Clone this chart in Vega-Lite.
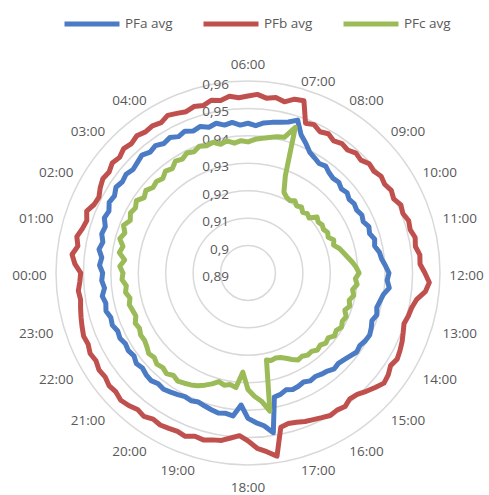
{
  "$schema": "https://vega.github.io/schema/vega-lite/v6.json",
  "width": 460,
  "height": 452,
  "autosize": "none",
  "padding": {"left": 18, "top": 43, "right": 11, "bottom": 0},
  "background": "white",
  "config": {"view": {"stroke": null}},
  "datasets": {
    "series": [
      {"t":0.0,"PFa avg":0.9430,"PFb avg":0.9510,"PFc avg":0.9356},
      {"t":0.2,"PFa avg":0.9442,"PFb avg":0.9532,"PFc avg":0.9368},
      {"t":0.4,"PFa avg":0.9436,"PFb avg":0.9545,"PFc avg":0.9352},
      {"t":0.6,"PFa avg":0.9450,"PFb avg":0.9528,"PFc avg":0.9375},
      {"t":0.8,"PFa avg":0.9441,"PFb avg":0.9538,"PFc avg":0.9366},
      {"t":1.0,"PFa avg":0.9452,"PFb avg":0.9525,"PFc avg":0.9384},
      {"t":1.2,"PFa avg":0.9447,"PFb avg":0.9518,"PFc avg":0.9372},
      {"t":1.4,"PFa avg":0.9461,"PFb avg":0.9530,"PFc avg":0.9386},
      {"t":1.6,"PFa avg":0.9455,"PFb avg":0.9514,"PFc avg":0.9370},
      {"t":1.8,"PFa avg":0.9468,"PFb avg":0.9510,"PFc avg":0.9381},
      {"t":2.0,"PFa avg":0.9462,"PFb avg":0.9522,"PFc avg":0.9374},
      {"t":2.2,"PFa avg":0.9474,"PFb avg":0.9531,"PFc avg":0.9385},
      {"t":2.4,"PFa avg":0.9466,"PFb avg":0.9526,"PFc avg":0.9368},
      {"t":2.6,"PFa avg":0.9472,"PFb avg":0.9537,"PFc avg":0.9379},
      {"t":2.8,"PFa avg":0.9464,"PFb avg":0.9530,"PFc avg":0.9366},
      {"t":3.0,"PFa avg":0.9470,"PFb avg":0.9541,"PFc avg":0.9372},
      {"t":3.2,"PFa avg":0.9478,"PFb avg":0.9535,"PFc avg":0.9364},
      {"t":3.4,"PFa avg":0.9467,"PFb avg":0.9544,"PFc avg":0.9378},
      {"t":3.6,"PFa avg":0.9474,"PFb avg":0.9536,"PFc avg":0.9370},
      {"t":3.8,"PFa avg":0.9463,"PFb avg":0.9540,"PFc avg":0.9386},
      {"t":4.0,"PFa avg":0.9470,"PFb avg":0.9533,"PFc avg":0.9379},
      {"t":4.2,"PFa avg":0.9458,"PFb avg":0.9545,"PFc avg":0.9391},
      {"t":4.4,"PFa avg":0.9466,"PFb avg":0.9537,"PFc avg":0.9384},
      {"t":4.6,"PFa avg":0.9455,"PFb avg":0.9530,"PFc avg":0.9395},
      {"t":4.8,"PFa avg":0.9462,"PFb avg":0.9538,"PFc avg":0.9388},
      {"t":5.0,"PFa avg":0.9450,"PFb avg":0.9532,"PFc avg":0.9393},
      {"t":5.2,"PFa avg":0.9458,"PFb avg":0.9544,"PFc avg":0.9380},
      {"t":5.4,"PFa avg":0.9446,"PFb avg":0.9537,"PFc avg":0.9388},
      {"t":5.6,"PFa avg":0.9452,"PFb avg":0.9548,"PFc avg":0.9376},
      {"t":5.8,"PFa avg":0.9440,"PFb avg":0.9540,"PFc avg":0.9383},
      {"t":6.0,"PFa avg":0.9446,"PFb avg":0.9545,"PFc avg":0.9378},
      {"t":6.2,"PFa avg":0.9438,"PFb avg":0.9552,"PFc avg":0.9388},
      {"t":6.4,"PFa avg":0.9450,"PFb avg":0.9541,"PFc avg":0.9394},
      {"t":6.6,"PFa avg":0.9456,"PFb avg":0.9548,"PFc avg":0.9400},
      {"t":6.8,"PFa avg":0.9462,"PFb avg":0.9538,"PFc avg":0.9408},
      {"t":7.0,"PFa avg":0.9470,"PFb avg":0.9556,"PFc avg":0.9412},
      {"t":7.2,"PFa avg":0.9486,"PFb avg":0.9560,"PFc avg":0.9458},
      {"t":7.4,"PFa avg":0.9440,"PFb avg":0.9485,"PFc avg":0.9280},
      {"t":7.6,"PFa avg":0.9418,"PFb avg":0.9492,"PFc avg":0.9222},
      {"t":7.8,"PFa avg":0.9395,"PFb avg":0.9478,"PFc avg":0.9210},
      {"t":8.0,"PFa avg":0.9385,"PFb avg":0.9486,"PFc avg":0.9205},
      {"t":8.2,"PFa avg":0.9376,"PFb avg":0.9474,"PFc avg":0.9214},
      {"t":8.4,"PFa avg":0.9382,"PFb avg":0.9483,"PFc avg":0.9202},
      {"t":8.6,"PFa avg":0.9370,"PFb avg":0.9477,"PFc avg":0.9210},
      {"t":8.8,"PFa avg":0.9364,"PFb avg":0.9488,"PFc avg":0.9198},
      {"t":9.0,"PFa avg":0.9368,"PFb avg":0.9482,"PFc avg":0.9206},
      {"t":9.2,"PFa avg":0.9358,"PFb avg":0.9495,"PFc avg":0.9200},
      {"t":9.4,"PFa avg":0.9365,"PFb avg":0.9490,"PFc avg":0.9224},
      {"t":9.6,"PFa avg":0.9356,"PFb avg":0.9500,"PFc avg":0.9216},
      {"t":9.8,"PFa avg":0.9362,"PFb avg":0.9494,"PFc avg":0.9222},
      {"t":10.0,"PFa avg":0.9358,"PFb avg":0.9503,"PFc avg":0.9218},
      {"t":10.2,"PFa avg":0.9366,"PFb avg":0.9496,"PFc avg":0.9226},
      {"t":10.4,"PFa avg":0.9360,"PFb avg":0.9510,"PFc avg":0.9220},
      {"t":10.6,"PFa avg":0.9372,"PFb avg":0.9505,"PFc avg":0.9235},
      {"t":10.8,"PFa avg":0.9366,"PFb avg":0.9516,"PFc avg":0.9228},
      {"t":11.0,"PFa avg":0.9378,"PFb avg":0.9512,"PFc avg":0.9245},
      {"t":11.2,"PFa avg":0.9372,"PFb avg":0.9523,"PFc avg":0.9256},
      {"t":11.4,"PFa avg":0.9385,"PFb avg":0.9518,"PFc avg":0.9268},
      {"t":11.6,"PFa avg":0.9390,"PFb avg":0.9530,"PFc avg":0.9282},
      {"t":11.8,"PFa avg":0.9402,"PFb avg":0.9528,"PFc avg":0.9295},
      {"t":12.0,"PFa avg":0.9414,"PFb avg":0.9545,"PFc avg":0.9305},
      {"t":12.2,"PFa avg":0.9408,"PFb avg":0.9562,"PFc avg":0.9292},
      {"t":12.4,"PFa avg":0.9418,"PFb avg":0.9550,"PFc avg":0.9300},
      {"t":12.6,"PFa avg":0.9400,"PFb avg":0.9522,"PFc avg":0.9286},
      {"t":12.8,"PFa avg":0.9392,"PFb avg":0.9510,"PFc avg":0.9294},
      {"t":13.0,"PFa avg":0.9386,"PFb avg":0.9505,"PFc avg":0.9282},
      {"t":13.2,"PFa avg":0.9394,"PFb avg":0.9498,"PFc avg":0.9290},
      {"t":13.4,"PFa avg":0.9384,"PFb avg":0.9506,"PFc avg":0.9278},
      {"t":13.6,"PFa avg":0.9392,"PFb avg":0.9515,"PFc avg":0.9292},
      {"t":13.8,"PFa avg":0.9398,"PFb avg":0.9522,"PFc avg":0.9286},
      {"t":14.0,"PFa avg":0.9394,"PFb avg":0.9528,"PFc avg":0.9294},
      {"t":14.2,"PFa avg":0.9386,"PFb avg":0.9520,"PFc avg":0.9284},
      {"t":14.4,"PFa avg":0.9390,"PFb avg":0.9532,"PFc avg":0.9290},
      {"t":14.6,"PFa avg":0.9380,"PFb avg":0.9538,"PFc avg":0.9276},
      {"t":14.8,"PFa avg":0.9372,"PFb avg":0.9524,"PFc avg":0.9282},
      {"t":15.0,"PFa avg":0.9366,"PFb avg":0.9510,"PFc avg":0.9272},
      {"t":15.2,"PFa avg":0.9370,"PFb avg":0.9495,"PFc avg":0.9278},
      {"t":15.4,"PFa avg":0.9360,"PFb avg":0.9490,"PFc avg":0.9268},
      {"t":15.6,"PFa avg":0.9356,"PFb avg":0.9502,"PFc avg":0.9270},
      {"t":15.8,"PFa avg":0.9350,"PFb avg":0.9496,"PFc avg":0.9262},
      {"t":16.0,"PFa avg":0.9354,"PFb avg":0.9500,"PFc avg":0.9266},
      {"t":16.2,"PFa avg":0.9346,"PFb avg":0.9492,"PFc avg":0.9254},
      {"t":16.4,"PFa avg":0.9352,"PFb avg":0.9485,"PFc avg":0.9240},
      {"t":16.6,"PFa avg":0.9355,"PFb avg":0.9480,"PFc avg":0.9230},
      {"t":16.8,"PFa avg":0.9348,"PFb avg":0.9472,"PFc avg":0.9226},
      {"t":17.0,"PFa avg":0.9358,"PFb avg":0.9468,"PFc avg":0.9230},
      {"t":17.2,"PFa avg":0.9362,"PFb avg":0.9475,"PFc avg":0.9224},
      {"t":17.4,"PFa avg":0.9490,"PFb avg":0.9576,"PFc avg":0.9410},
      {"t":17.6,"PFa avg":0.9460,"PFb avg":0.9555,"PFc avg":0.9370},
      {"t":17.8,"PFa avg":0.9446,"PFb avg":0.9540,"PFc avg":0.9350},
      {"t":18.0,"PFa avg":0.9430,"PFb avg":0.9512,"PFc avg":0.9325},
      {"t":18.2,"PFa avg":0.9382,"PFb avg":0.9494,"PFc avg":0.9262},
      {"t":18.4,"PFa avg":0.9424,"PFb avg":0.9505,"PFc avg":0.9320},
      {"t":18.6,"PFa avg":0.9418,"PFb avg":0.9518,"PFc avg":0.9312},
      {"t":18.8,"PFa avg":0.9422,"PFb avg":0.9522,"PFc avg":0.9318},
      {"t":19.0,"PFa avg":0.9416,"PFb avg":0.9530,"PFc avg":0.9310},
      {"t":19.2,"PFa avg":0.9410,"PFb avg":0.9526,"PFc avg":0.9325},
      {"t":19.4,"PFa avg":0.9404,"PFb avg":0.9538,"PFc avg":0.9338},
      {"t":19.6,"PFa avg":0.9410,"PFb avg":0.9532,"PFc avg":0.9350},
      {"t":19.8,"PFa avg":0.9406,"PFb avg":0.9536,"PFc avg":0.9358},
      {"t":20.0,"PFa avg":0.9412,"PFb avg":0.9540,"PFc avg":0.9364},
      {"t":20.2,"PFa avg":0.9418,"PFb avg":0.9535,"PFc avg":0.9370},
      {"t":20.4,"PFa avg":0.9424,"PFb avg":0.9546,"PFc avg":0.9362},
      {"t":20.6,"PFa avg":0.9420,"PFb avg":0.9540,"PFc avg":0.9372},
      {"t":20.8,"PFa avg":0.9428,"PFb avg":0.9550,"PFc avg":0.9364},
      {"t":21.0,"PFa avg":0.9425,"PFb avg":0.9556,"PFc avg":0.9370},
      {"t":21.2,"PFa avg":0.9418,"PFb avg":0.9548,"PFc avg":0.9360},
      {"t":21.4,"PFa avg":0.9424,"PFb avg":0.9552,"PFc avg":0.9366},
      {"t":21.6,"PFa avg":0.9414,"PFb avg":0.9544,"PFc avg":0.9356},
      {"t":21.8,"PFa avg":0.9420,"PFb avg":0.9548,"PFc avg":0.9350},
      {"t":22.0,"PFa avg":0.9416,"PFb avg":0.9540,"PFc avg":0.9352},
      {"t":22.2,"PFa avg":0.9424,"PFb avg":0.9546,"PFc avg":0.9344},
      {"t":22.4,"PFa avg":0.9420,"PFb avg":0.9538,"PFc avg":0.9350},
      {"t":22.6,"PFa avg":0.9430,"PFb avg":0.9542,"PFc avg":0.9338},
      {"t":22.8,"PFa avg":0.9426,"PFb avg":0.9536,"PFc avg":0.9342},
      {"t":23.0,"PFa avg":0.9436,"PFb avg":0.9530,"PFc avg":0.9348},
      {"t":23.2,"PFa avg":0.9430,"PFb avg":0.9524,"PFc avg":0.9340},
      {"t":23.4,"PFa avg":0.9438,"PFb avg":0.9518,"PFc avg":0.9352},
      {"t":23.6,"PFa avg":0.9426,"PFb avg":0.9522,"PFc avg":0.9346},
      {"t":23.8,"PFa avg":0.9434,"PFb avg":0.9514,"PFc avg":0.9360},
      {"t":24.0,"PFa avg":0.9430,"PFb avg":0.9510,"PFc avg":0.9356}
    ],
    "rings": [
      {"v":0.90},{"v":0.91},{"v":0.92},{"v":0.93},{"v":0.94},{"v":0.95},{"v":0.96}
    ],
    "ringLabels": [
      {"v":0.89,"label":"0,89"},{"v":0.90,"label":"0,9"},{"v":0.91,"label":"0,91"},
      {"v":0.92,"label":"0,92"},{"v":0.93,"label":"0,93"},{"v":0.94,"label":"0,94"},
      {"v":0.95,"label":"0,95"},{"v":0.96,"label":"0,96"}
    ],
    "hours": [
      {"h":0,"label":"00:00"},{"h":1,"label":"01:00"},{"h":2,"label":"02:00"},{"h":3,"label":"03:00"},
      {"h":4,"label":"04:00"},{"h":6,"label":"06:00"},{"h":7,"label":"07:00"},
      {"h":8,"label":"08:00"},{"h":9,"label":"09:00"},{"h":10,"label":"10:00"},{"h":11,"label":"11:00"},
      {"h":12,"label":"12:00"},{"h":13,"label":"13:00"},{"h":14,"label":"14:00"},{"h":15,"label":"15:00"},
      {"h":16,"label":"16:00"},{"h":17,"label":"17:00"},{"h":18,"label":"18:00"},{"h":19,"label":"19:00"},
      {"h":20,"label":"20:00"},{"h":21,"label":"21:00"},{"h":22,"label":"22:00"},{"h":23,"label":"23:00"}
    ]
  },
  "layer": [
    {
      "data": {"name": "rings"},
      "transform": [{"calculate": "datum.v - 0.89", "as": "d"}],
      "mark": {"type": "point", "shape": "circle", "filled": false, "stroke": "#d9d9d9", "strokeWidth": 1.5, "opacity": 1},
      "encoding": {
        "x": {"datum": 0, "type": "quantitative", "scale": {"domain": [-0.083854, 0.083854], "nice": false, "zero": false}, "axis": null},
        "y": {"datum": 0, "type": "quantitative", "scale": {"domain": [-0.080938, 0.083854], "nice": false, "zero": false}, "axis": null},
        "size": {"field": "d", "type": "quantitative", "scale": {"type": "pow", "exponent": 2, "domain": [0, 0.07], "range": [0, 147456], "zero": true}, "legend": null}
      }
    },
    {
      "data": {"name": "ringLabels"},
      "transform": [{"calculate": "datum.v - 0.89", "as": "ry"}],
      "mark": {"type": "text", "align": "right", "baseline": "middle", "dx": -19, "dy": 4, "font": "Open Sans", "fontSize": 13.5, "color": "#595959"},
      "encoding": {
        "x": {"datum": 0, "type": "quantitative"},
        "y": {"field": "ry", "type": "quantitative"},
        "text": {"field": "label"}
      }
    },
    {
      "data": {"name": "hours"},
      "transform": [
        {"calculate": "(datum.h - 6) * PI / 12", "as": "th"},
        {"calculate": "sin(datum.th)", "as": "s"},
        {"calculate": "cos(datum.th)", "as": "c"},
        {"calculate": "datum.s > 0.001 ? 1 : (datum.s < -0.001 ? -1 : 0)", "as": "sx"},
        {"calculate": "datum.c > 0.001 ? 1 : (datum.c < -0.001 ? -1 : 0)", "as": "sy"},
        {"calculate": "0.00036458 * (200 * datum.s + 18.5 * datum.sx)", "as": "lx"},
        {"calculate": "0.00036458 * (194 * datum.c + datum.sy * (datum.sx == 0 ? 17.5 : 7) - 3.5)", "as": "ly"}
      ],
      "mark": {"type": "text", "align": "center", "baseline": "middle", "font": "Open Sans", "fontSize": 13.5, "color": "#595959"},
      "encoding": {
        "x": {"field": "lx", "type": "quantitative"},
        "y": {"field": "ly", "type": "quantitative"},
        "text": {"field": "label"}
      }
    },
    {
      "data": {"name": "series"},
      "transform": [
        {"fold": ["PFa avg", "PFb avg", "PFc avg"], "as": ["series", "v"]},
        {"calculate": "(datum.t - 6) * PI / 12", "as": "th"},
        {"calculate": "(datum.v - 0.89) * sin(datum.th)", "as": "px"},
        {"calculate": "(datum.v - 0.89) * cos(datum.th)", "as": "py"}
      ],
      "mark": {"type": "line", "strokeWidth": 5, "strokeJoin": "round", "strokeCap": "round"},
      "encoding": {
        "x": {"field": "px", "type": "quantitative"},
        "y": {"field": "py", "type": "quantitative"},
        "order": {"field": "t", "type": "quantitative"},
        "color": {
          "field": "series", "type": "nominal",
          "scale": {"domain": ["PFa avg", "PFb avg", "PFc avg"], "range": ["#4a7bc4", "#c0504d", "#9bbb59"]},
          "legend": {
            "title": null, "orient": "none", "direction": "horizontal",
            "legendX": 44, "legendY": -49,
            "symbolType": "stroke", "symbolSize": 3025, "symbolStrokeWidth": 5,
            "labelFont": "Open Sans", "labelFontSize": 13.5, "labelColor": "#595959",
            "labelOffset": 3, "columnPadding": 20
          }
        }
      }
    }
  ]
}
